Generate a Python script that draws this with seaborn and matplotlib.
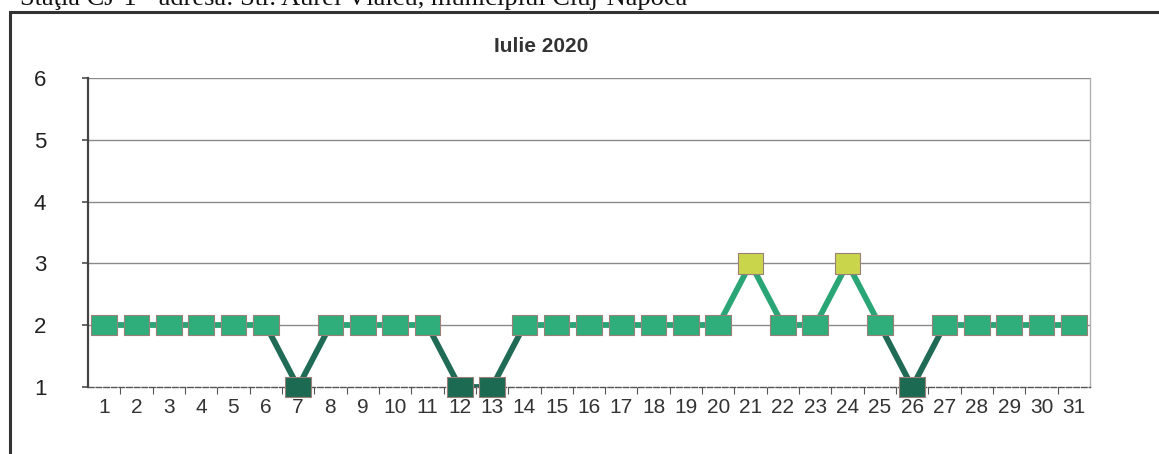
import matplotlib
matplotlib.use("Agg")
import matplotlib.pyplot as plt
import seaborn as sns
import pandas as pd
from matplotlib.patches import Rectangle

days = list(range(1, 32))
values = [2, 2, 2, 2, 2, 2, 1, 2, 2, 2, 2, 1, 1, 2, 2, 2, 2, 2, 2, 2,
          3, 2, 2, 3, 2, 1, 2, 2, 2, 2, 2]
y_ticks = [1, 2, 3, 4, 5, 6]
title = "Iulie 2020"
header = "Staţia CJ-1 - adresa: Str. Aurel Vlaicu, municipiul Cluj-Napoca"

level_colors = {1: "#1d6a52", 2: "#2fae7c", 3: "#c9d64c"}

sns.set_theme(style="white")
plt.rcParams["font.family"] = ["Liberation Sans", "DejaVu Sans"]

fig = plt.figure(figsize=(11.59, 4.54), dpi=100)
ax = fig.add_axes([88 / 1159, 1 - 387 / 454, (1090 - 88) / 1159, (387 - 78) / 454])

df = pd.DataFrame({"day": days, "value": values})

# grid lines
for yv in y_ticks[1:]:
    ax.axhline(yv, color="#8a8a8a", lw=1.0, zorder=0)

# line segments
for i in range(len(days) - 1):
    seg = df.iloc[i:i + 2]
    lo = min(seg["value"])
    col = "#1f6b55" if lo == 1 else "#2aa676"
    sns.lineplot(data=seg, x="day", y="value", ax=ax, color=col, lw=4.2,
                 zorder=2, legend=False)

rect = [(-1.25, -1), (1.25, -1), (1.25, 1), (-1.25, 1), (-1.25, -1)]
sns.scatterplot(data=df, x="day", y="value", hue="value", palette=level_colors,
                marker=rect, s=340, edgecolor="#9b8079", linewidth=0.8,
                ax=ax, zorder=3, legend=False, clip_on=False)

ax.set_xlim(0.5, 31.5)
ax.set_ylim(1, 6)
ax.set_yticks(y_ticks)
ax.set_yticklabels([str(t) for t in y_ticks], fontsize=16, color="#222222")
ax.set_xticks(days)
ax.set_xticklabels([str(d) for d in days], fontsize=15, color="#333333")
ax.set_xticks([d + 0.5 for d in days[:-1]], minor=True)
ax.tick_params(axis="x", which="major", length=0, pad=8)
ax.tick_params(axis="x", which="minor", length=5, width=0.8, color="#555555",
               direction="out", bottom=True)
ax.tick_params(axis="y", length=4, pad=26, left=True, color="#555555")
ax.set_xlabel("")
ax.set_ylabel("")

ax.spines["top"].set_visible(False)
ax.spines["left"].set_color("#444444")
ax.spines["left"].set_linewidth(1.6)
ax.spines["bottom"].set_color("#555555")
ax.spines["bottom"].set_linestyle((0, (4, 1.5)))
ax.spines["bottom"].set_linewidth(1.0)
ax.spines["right"].set_color("#b0b0b0")
ax.spines["right"].set_linewidth(1.0)

fig.text(541 / 1159, 1 - 47 / 454, title, ha="center", va="center",
         fontsize=15, fontweight="bold", color="#333333")

# outer frame
fig.patches.append(Rectangle((10 / 1159, -0.02), 1.1, 1 - 12 / 454 + 0.02,
                             transform=fig.transFigure, fill=False,
                             edgecolor="#333333", lw=2.2))
fig.text(20 / 1159, 1 + 1 / 454, header, ha="left", va="center",
         fontsize=19, family=["Liberation Serif", "DejaVu Serif"],
         color="#111111")

fig.savefig("out.png", dpi=100)
